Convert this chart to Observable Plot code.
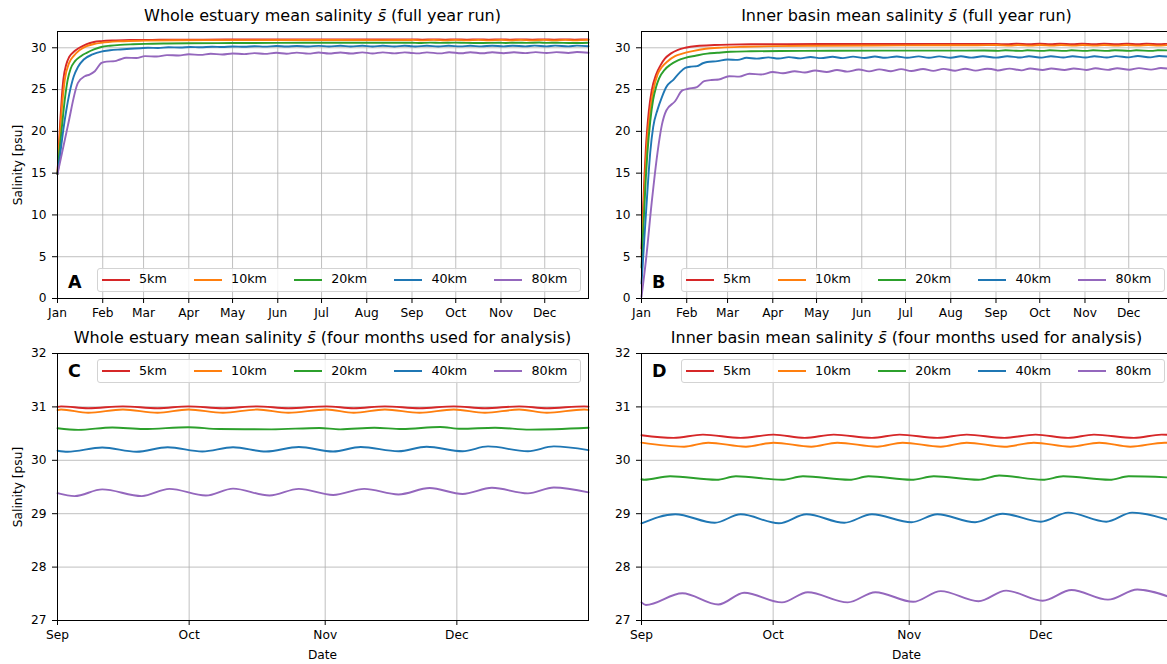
<!DOCTYPE html>
<html><head><meta charset="utf-8">
<script src="https://cdn.jsdelivr.net/npm/d3@7"></script>
<script src="https://cdn.jsdelivr.net/npm/@observablehq/plot@0.6"></script>
<style>
html,body{margin:0;padding:0;background:#fff;overflow:hidden;}
#page{position:relative;width:1167px;height:664px;overflow:hidden;font-family:"DejaVu Sans",sans-serif;color:#000;background:#fff;}
.panel{position:absolute;}
.txt{position:absolute;line-height:1;white-space:nowrap;}
.legend{position:absolute;width:484px;height:24px;box-sizing:border-box;border:1px solid #d3d3d3;border-radius:3px;background:rgba(255,255,255,0.8);display:flex;align-items:center;padding-left:4px;gap:27px;font-size:12.7px;line-height:1;}
.item{display:flex;align-items:center;gap:9.3px;}
.sw{width:28px;height:2px;display:inline-block;}
</style></head>
<body><div id="page"></div>
<script>
// ---------- data (day of year, 0 = 1 Jan; salinity psu) ----------
const seriesNames = ["5km", "10km", "20km", "40km", "80km"];
const seriesColors = ["#d62728", "#ff7f0e", "#2ca02c", "#1f77b4", "#9467bd"];
const monthTicksYear = [0, 31, 59, 90, 120, 151, 181, 212, 243, 273, 304, 334];
const monthTicksAnalysis = [243, 273, 304, 334];
const yTicksYear = [0, 5, 10, 15, 20, 25, 30];
const yTicksAnalysis = [27, 28, 29, 30, 31, 32];

// Whole estuary
const whole5km = [[0,14.9],[1,18.5],[2,21.5],[3,24.2],[4,26.2],[6,28.0],[8,28.9],[11,29.5],[15,30.0],[20,30.45],[25,30.7],[30,30.8],[40,30.88],[50,30.93],[65,30.95],[80,30.97],[100,30.98],[130,30.99],[160,31.0],[200,31.0],[230,31.0],
 [243,31.0],[243.8,31.01],[250,30.975],[257.9,31.01],[265.8,30.975],[272.8,31.01],[280.7,30.975],[288.5,31.01],[295.6,30.975],[304.3,31.01],[310.5,30.975],[317.6,31.01],[325.5,30.975],[333.3,31.01],[340.4,30.975],[348.2,31.01],[354.5,30.975],[363,31.01],[364,31.005]];
const whole10km = [[0,14.9],[1,18],[2,20.5],[3,22.8],[5,26.2],[8,28.2],[11,29.0],[15,29.7],[20,30.2],[25,30.45],[30,30.6],[43,30.78],[60,30.86],[80,30.9],[120,30.92],[170,30.93],[220,30.92],
 [243,30.94],[243.8,30.95],[250,30.89],[257.9,30.95],[265.8,30.89],[272.8,30.95],[280.7,30.89],[288.5,30.95],[295.6,30.89],[304.3,30.95],[310.5,30.89],[317.6,30.95],[325.5,30.89],[333.3,30.95],[340.4,30.89],[348.2,30.95],[354.5,30.89],[363,30.95],[364,30.945]];
const whole20km = [[0,14.9],[1,17],[3,20.5],[5,23.8],[7,26.2],[9,27.5],[12,28.4],[16,29.0],[20,29.4],[25,29.8],[30,30.1],[36,30.25],[43,30.35],[52,30.42],[60,30.47],[75,30.52],[90,30.55],[120,30.57],[150,30.59],[190,30.6],[225,30.6],
 [243,30.6],[247.7,30.57],[255.5,30.615],[262.6,30.585],[272.8,30.62],[279.9,30.585],[291.7,30.58],[302.7,30.605],[307.4,30.58],[315.2,30.61],[321.5,30.585],[330.2,30.625],[334.9,30.59],[342.7,30.61],[350.6,30.575],[364,30.61]];
const whole40km = [[0,14.9],[2,17.5],[4,20.2],[6,22.5],[8,24.4],[11,26.5],[14,27.7],[18,28.6],[24,29.2],[30,29.55],[36,29.7],[43,29.8],[50,29.88],[57,29.95],[62,30.0],[69,29.97],[76,30.06],[84,30.03],[91,30.1],[98,30.06],[106,30.13],[113,30.09],[120,30.16],[128,30.12],[135,30.19],[142,30.14],[150,30.21],[157,30.15],[164,30.22],[172,30.16],[179,30.23],[186,30.16],[194,30.24],[201,30.16],[209,30.24],[216,30.16],[223,30.24],[231,30.16],[238,30.24],
 [243,30.18],[245.3,30.16],[253.2,30.24],[261,30.16],[268.1,30.245],[276,30.165],[283,30.245],[290.5,30.165],[298,30.25],[305.8,30.165],[312.1,30.25],[320.7,30.17],[327.1,30.255],[335.3,30.17],[341.1,30.26],[350.2,30.17],[356.1,30.26],[364,30.19]];
const whole80km = [[0,14.9],[7,20.6],[14,25.8],[18.7,26.6],[22,26.8],[25.6,27.2],[30.2,28.2],[33.6,28.35],[39.3,28.4],[42.8,28.6],[47,28.8],[54,28.78],[60,29.0],[68,28.95],[75,29.12],[83,29.08],[90,29.22],[98,29.15],[105,29.28],[113,29.2],[120,29.32],[128,29.24],[135,29.36],[142,29.27],[150,29.4],[157,29.29],[164,29.42],[172,29.3],[179,29.43],[186,29.31],[194,29.44],[201,29.32],[209,29.45],[216,29.32],[223,29.45],[231,29.33],[238,29.45],
 [243,29.385],[246.9,29.33],[253.2,29.455],[262.2,29.33],[268.5,29.465],[276.8,29.34],[283,29.47],[291.3,29.34],[298,29.465],[305.8,29.35],[312.9,29.465],[320.7,29.36],[327.8,29.48],[335.3,29.37],[342,29.485],[350.2,29.38],[356.1,29.49],[364,29.40]];

// Inner basin
const inner5km = [[0,6],[1,10.5],[2,14.5],[3,18],[4,20.5],[5,22.4],[7,24.9],[10,26.8],[13,27.9],[16,28.7],[20,29.3],[25,29.75],[30,30.0],[38,30.22],[50,30.33],[60,30.38],[75,30.42],[100,30.44],[140,30.45],[180,30.45],[220,30.45],
 [243,30.47],[250.3,30.42],[257,30.48],[265.6,30.42],[273.1,30.48],[280.2,30.42],[286.8,30.48],[295.5,30.42],[301.8,30.48],[310.4,30.42],[317.1,30.48],[325.7,30.42],[332.8,30.48],[340.2,30.42],[346.1,30.48],[355.2,30.42],[361.5,30.48],[364,30.475]];
const inner10km = [[0,5],[1,9],[2,13],[3,16.3],[4,19],[6,22.5],[8,24.8],[11,26.8],[14,27.7],[18,28.4],[23,29.0],[28,29.3],[35,29.6],[44,29.88],[55,30.02],[70,30.12],[90,30.2],[120,30.25],[160,30.28],[200,30.3],[230,30.3],
 [243,30.33],[252.7,30.255],[258.2,30.33],[266.8,30.255],[273.1,30.33],[281.7,30.255],[287.6,30.33],[296.7,30.255],[302.5,30.33],[311.2,30.255],[317.1,30.33],[325.7,30.255],[332.4,30.33],[340.7,30.255],[347.3,30.33],[354.4,30.255],[362.2,30.33],[364,30.32]];
const inner20km = [[0,3.7],[1,7.5],[2,11],[3,14.5],[4,17.3],[6,21.2],[8,23.8],[10,25.3],[12,26.3],[16,27.4],[20,28.0],[25,28.5],[30,28.8],[37,29.05],[45,29.3],[52,29.4],[61,29.52],[75,29.58],[95,29.62],[130,29.64],[170,29.66],[210,29.66],[235,29.67],
 [243,29.645],[243.6,29.635],[249.5,29.70],[260.1,29.635],[264.5,29.70],[275,29.635],[279.8,29.70],[290.4,29.635],[294.7,29.70],[304.5,29.635],[309.6,29.70],[319.8,29.635],[324.5,29.715],[334.4,29.635],[339.1,29.70],[349.7,29.635],[354,29.70],[364,29.675]];
const inner40km = [[0,1.8],[1,4.5],[2,7.3],[3,10],[4,12.7],[6,17.5],[8,20.5],[11,22.6],[14,24.1],[17,25.3],[22,26.2],[26,27.0],[30,27.6],[34,27.75],[38,27.8],[42,28.15],[45,28.3],[52,28.4],[59,28.6],[66,28.55],[72,28.8],[79,28.7],[87,28.85],[94,28.72],[101,28.88],[109,28.74],[116,28.9],[123,28.76],[131,28.92],[138,28.77],[145,28.94],[153,28.78],[160,28.95],[167,28.8],[175,28.96],[182,28.8],[190,28.97],[197,28.81],[204,28.97],[212,28.81],[219,28.98],[226,28.82],[234,28.99],
 [243,28.82],[250.7,28.99],[259.7,28.83],[265.6,28.99],[274.3,28.82],[280.6,28.99],[289.2,28.83],[295.5,28.99],[304.5,28.84],[310.4,28.99],[319,28.84],[325.3,29.0],[334,28.85],[340.2,29.02],[348.9,28.85],[354.8,29.02],[364,28.86]];
const inner80km = [[0,0.2],[3,4.5],[7,11.5],[11,17.5],[14,20.8],[17,22.5],[23,23.6],[28,24.9],[32,25.1],[38,25.3],[43,26.0],[48,26.15],[53,26.2],[60,26.6],[67,26.55],[74,26.9],[82,26.8],[90,27.1],[97,26.95],[105,27.2],[112,27.05],[119,27.28],[127,27.1],[134,27.35],[141,27.15],[149,27.4],[156,27.18],[163,27.42],[171,27.2],[178,27.45],[185,27.22],[193,27.47],[200,27.24],[207,27.48],[215,27.26],[222,27.5],[229,27.27],[237,27.5],
 [243,27.34],[244,27.29],[252.3,27.51],[260.5,27.30],[266.4,27.52],[275,27.34],[280.9,27.53],[290,27.34],[296.3,27.53],[304.9,27.35],[311.2,27.55],[319.8,27.36],[326.1,27.56],[334.4,27.37],[341,27.57],[349.3,27.39],[356,27.58],[364,27.42]];

// ---------- drawing ----------
const page = document.getElementById("page");
const Y0 = Date.UTC(2019, 0, 1);
const toDate = d => new Date(Y0 + d * 864e5);
const FONT = "DejaVu Sans, sans-serif";

function makePanel(seriesList, xRange, xTicks, yDomain, yTicks, left, top) {
  const rows = [];
  seriesList.forEach((s, i) => s.forEach(([d, v]) => {
    if (d >= xRange[0] && d <= xRange[1]) rows.push({date: toDate(d), value: v, key: seriesNames[i]});
  }));
  const chart = Plot.plot({
    width: 600, height: 330,
    marginLeft: 57, marginRight: 12, marginTop: 31, marginBottom: 32,
    style: {background: "transparent", overflow: "visible", fontFamily: FONT, fontSize: "12px", color: "#000", maxWidth: "none"},
    x: {type: "utc", domain: xRange.map(toDate)},
    y: {domain: yDomain},
    color: {domain: seriesNames, range: seriesColors},
    marks: [
      Plot.gridX(xTicks.map(toDate), {stroke: "#b0b0b0", strokeOpacity: 1, strokeWidth: 0.8}),
      Plot.gridY(yTicks, {stroke: "#b0b0b0", strokeOpacity: 1, strokeWidth: 0.8}),
      Plot.line(rows, {x: "date", y: "value", z: "key", stroke: "key", strokeWidth: 1.9, curve: "monotone-x"}),
      Plot.frame({stroke: "#000", strokeWidth: 1}),
      Plot.axisX(xTicks.map(toDate), {tickFormat: d3.utcFormat("%b"), tickSize: 5, tickPadding: 5, label: null, fontSize: 12.2, fontFamily: FONT}),
      Plot.axisY(yTicks, {tickFormat: d3.format("d"), tickSize: 5, tickPadding: 6, label: null, fontSize: 12.2, fontFamily: FONT})
    ]
  });
  chart.classList.add("panel");
  chart.style.left = left + "px";
  chart.style.top = top + "px";
  chart.style.position = "absolute";
  page.appendChild(chart);
}

function text(str, x, baseline, fs, opts = {}) {
  const el = document.createElement("div");
  el.className = "txt";
  el.innerHTML = str;
  el.style.fontSize = fs + "px";
  el.style.top = (baseline - 0.846 * fs) + "px";
  el.style.left = x + "px";
  if (opts.anchor === "middle") el.style.transform = "translateX(-50%)";
  if (opts.bold) el.style.fontWeight = "bold";
  page.appendChild(el);
  return el;
}

function ylabel(str, x, y) {
  const el = document.createElement("div");
  el.className = "txt";
  el.textContent = str;
  el.style.fontSize = "12.2px";
  el.style.left = x + "px";
  el.style.top = y + "px";
  el.style.transform = "translate(-50%,-50%) rotate(-90deg)";
  page.appendChild(el);
}

function legend(left, top) {
  const box = document.createElement("div");
  box.className = "legend";
  box.style.left = left + "px";
  box.style.top = top + "px";
  seriesNames.forEach((n, i) => {
    const it = document.createElement("div");
    it.className = "item";
    it.innerHTML = `<span class="sw" style="background:${seriesColors[i]}"></span><span>${n}</span>`;
    box.appendChild(it);
  });
  page.appendChild(box);
}

const whole = [whole5km, whole10km, whole20km, whole40km, whole80km];
const inner = [inner5km, inner10km, inner20km, inner40km, inner80km];

makePanel(whole, [0, 364], monthTicksYear, [0, 31.95], yTicksYear, 0, 0);
makePanel(inner, [0, 364], monthTicksYear, [0, 31.95], yTicksYear, 584, 0);
makePanel(whole, [243, 364], monthTicksAnalysis, [27, 32], yTicksAnalysis, 0, 322);
makePanel(inner, [243, 364], monthTicksAnalysis, [27, 32], yTicksAnalysis, 584, 322);

const sbar = '<i>s̄</i>';
text(`Whole estuary mean salinity ${sbar} (full year run)`, 322.5, 22, 16, {anchor: "middle"});
text(`Inner basin mean salinity ${sbar} (full year run)`, 906.5, 22, 16, {anchor: "middle"});
text(`Whole estuary mean salinity ${sbar} (four months used for analysis)`, 322.5, 344, 16, {anchor: "middle"});
text(`Inner basin mean salinity ${sbar} (four months used for analysis)`, 906.5, 344, 16, {anchor: "middle"});

ylabel("Salinity [psu]", 18, 164.5);
ylabel("Salinity [psu]", 18, 486.5);
text("Date", 322.5, 659, 12.2, {anchor: "middle"});
text("Date", 906.5, 659, 12.2, {anchor: "middle"});

legend(96.7, 267.7);
legend(680.7, 267.7);
legend(96.7, 359.3);
legend(680.7, 359.3);

text("A", 68, 289, 17.5, {bold: true});
text("B", 652, 289, 17.5, {bold: true});
text("C", 68, 377.5, 17.5, {bold: true});
text("D", 652, 377.5, 17.5, {bold: true});
</script>
</body></html>
